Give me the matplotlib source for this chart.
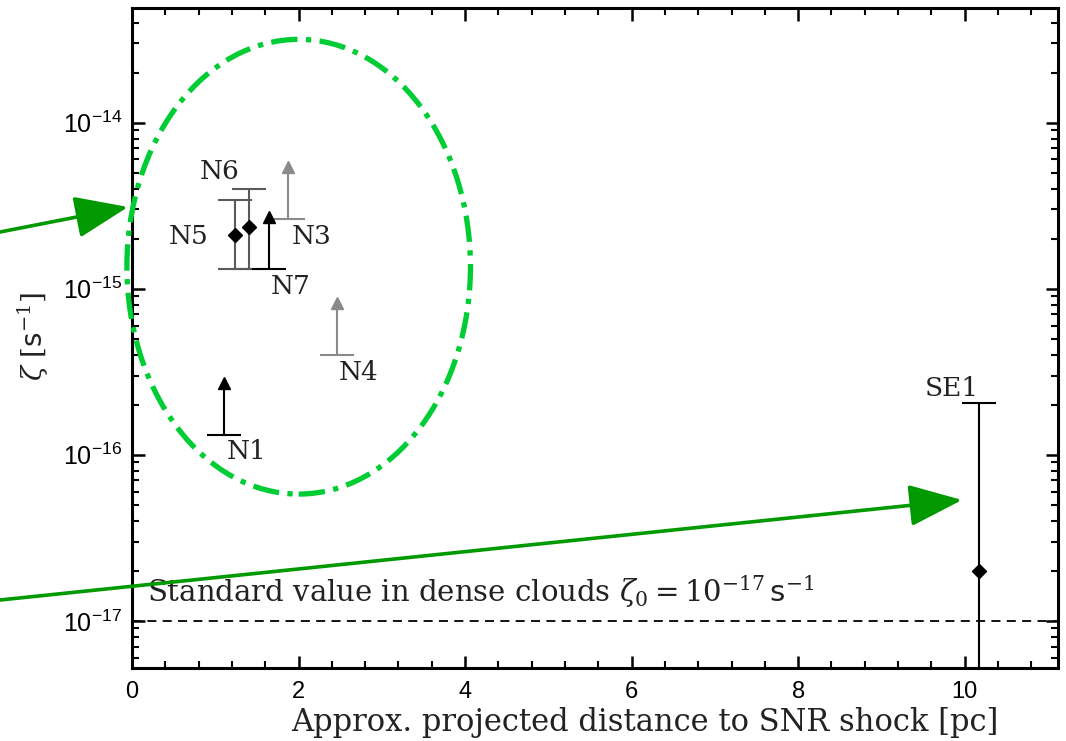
import matplotlib
matplotlib.use("Agg")
import matplotlib.pyplot as plt
import numpy as np
from matplotlib.patches import Ellipse, FancyArrowPatch
from matplotlib.ticker import FixedLocator, FuncFormatter, LogLocator, MultipleLocator

plt.rcParams["font.family"] = ["DejaVu Serif"]
plt.rcParams["mathtext.fontset"] = "dejavuserif"
plt.rcParams["mathtext.rm"] = "Liberation Sans"
plt.rcParams["mathtext.it"] = "Liberation Sans:italic"

# clouds with a measured ionisation rate (value, lower, upper)
meas_names = ["N5", "N6", "SE1"]
meas_x = [1.24, 1.40, 10.17]
meas_zeta = [2.1e-15, 2.35e-15, 2.0e-17]
meas_lo = [1.32e-15, 1.32e-15, 1e-19]
meas_hi = [3.4e-15, 4.0e-15, 2.05e-16]

# clouds with only a lower limit
lim_names = ["N1", "N3", "N4", "N7"]
lim_x = [1.11, 1.87, 2.46, 1.65]
lim_zeta = [1.32e-16, 2.64e-15, 4.0e-16, 1.32e-15]

zeta_0 = 1e-17

# label anchors (x, zeta)
label_pos = {
    "N6": (1.05, 5.1e-15), "N5": (0.68, 2.06e-15), "N3": (2.16, 2.06e-15),
    "N7": (1.90, 1.03e-15), "N4": (2.72, 3.15e-16), "N1": (1.38, 1.05e-16),
    "SE1": (9.84, 2.5e-16),
}

W, H = 1066, 741
fig = plt.figure(figsize=(W / 100, H / 100), dpi=100)
ax = fig.add_axes([132 / W, 1 - 668 / H, 926 / W, 660 / H])
ax.set_yscale("log")
ax.set_xlim(0, 11.12)
ax.set_ylim(5.2e-18, 4.9e-14)

meas_col = ["#5a5a5a", "#5a5a5a", "black"]
for x, z, lo, hi, c in zip(meas_x, meas_zeta, meas_lo, meas_hi, meas_col):
    ax.errorbar([x], [z], yerr=[[z - lo], [hi - z]], fmt="none", ecolor=c,
                elinewidth=1.5, capsize=12, capthick=1.5, zorder=3)
    ax.plot([x], [z], marker="D", ms=7.5, color="black", zorder=4)

lim_col = {"N1": "black", "N7": "black", "N3": "#8a8a8a", "N4": "#8a8a8a"}
arrow_len = 2.05
for name, x, z in zip(lim_names, lim_x, lim_zeta):
    c = lim_col[name]
    ax.plot([x, x], [z, z * arrow_len], color=c, lw=1.5, zorder=3)
    ax.plot([x], [z * arrow_len], marker="^", ms=9, color=c, mec=c, zorder=3)
    ax.plot([x], [z], marker="_", ms=24, mew=1.5, color=c, zorder=3)

for name, (x, y) in label_pos.items():
    ax.text(x, y, name, fontsize=19, ha="center", va="center", color="#222222")

ax.axhline(zeta_0, color="black", ls=(0, (5, 3.5)), lw=1.3, zorder=2)
ax.text(0.18, 1.5e-17,
        r"Standard value in dense clouds $\zeta_0 = 10^{-17}\,\mathsf{s}^{-1}$",
        fontsize=21, ha="left", va="center", color="#222222")

# axes styling
for sp in ax.spines.values():
    sp.set_linewidth(2.2)
ax.tick_params(which="both", direction="in", top=True, right=True)
ax.tick_params(which="major", length=9, width=1.8)
ax.tick_params(which="minor", length=5, width=1.5)
ax.tick_params(axis="x", which="major", labelsize=17, pad=9)
ax.tick_params(axis="y", which="major", labelsize=18, pad=7)
ax.xaxis.set_major_locator(MultipleLocator(2))
ax.xaxis.set_minor_locator(MultipleLocator(0.4))
ax.yaxis.set_major_locator(FixedLocator([1e-17, 1e-16, 1e-15, 1e-14]))
ax.yaxis.set_minor_locator(LogLocator(base=10, subs=np.arange(2, 10)))
ax.xaxis.set_major_formatter(FuncFormatter(lambda v, p: "%d" % v))
ax.yaxis.set_major_formatter(
    FuncFormatter(lambda v, p: r"$10^{%d}$" % round(np.log10(v))))
for lbl in ax.get_xticklabels():
    lbl.set_fontfamily("Liberation Sans")
for lbl in ax.get_yticklabels():
    lbl.set_math_fontfamily("custom")

ax.set_xlabel("Approx. projected distance to SNR shock [pc]", fontsize=22,
              color="#222222")
ax.xaxis.set_label_coords(0.554, -0.059)
ax.set_ylabel(r"$\zeta\ [\mathsf{s}^{-1}]$", fontsize=20, color="#222222")
ax.yaxis.set_label_coords(-0.087, 0.503)

# highlighted group of northern clouds
ell = Ellipse((0.180, 0.608), 0.371, 0.689, transform=ax.transAxes, fill=False,
              ec="#00cc33", lw=3.8, ls=(0, (5, 1.6, 1, 1.6)), clip_on=False,
              zorder=5)
ax.add_patch(ell)

arrows = [((0.0, 1 - 232 / H), (128 / W, 1 - 207 / H)),
          ((0.0, 1 - 600 / H), (962 / W, 1 - 500 / H))]
for tail, tip in arrows:
    fig.patches.append(FancyArrowPatch(
        tail, tip, transform=fig.transFigure, color="#009900", lw=2.6,
        arrowstyle="-|>,head_length=33,head_width=13", mutation_scale=1,
        shrinkA=0, shrinkB=0, zorder=6))

fig.savefig("out.png", dpi=100)
